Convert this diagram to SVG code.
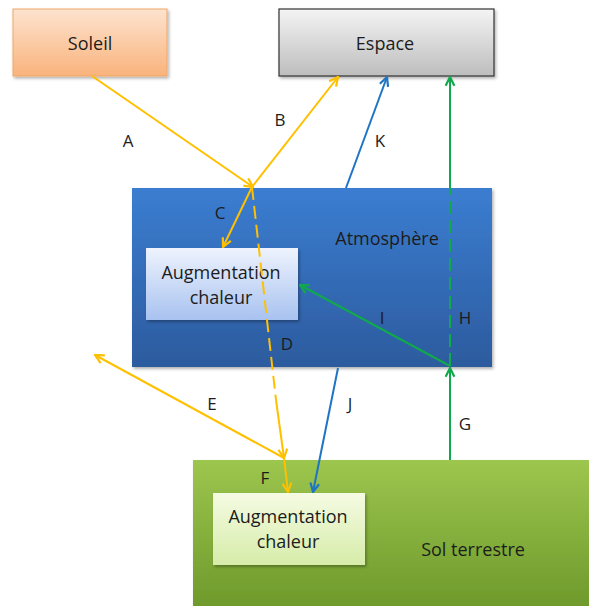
<svg xmlns="http://www.w3.org/2000/svg" width="589" height="606" viewBox="0 0 589 606">
<defs>
<linearGradient id="gSoleil" x1="0" y1="0" x2="0" y2="1"><stop offset="0" stop-color="#fde3cf"/><stop offset="1" stop-color="#f9b37c"/></linearGradient>
<linearGradient id="gEspace" x1="0" y1="0" x2="0" y2="1"><stop offset="0" stop-color="#f4f4f4"/><stop offset="1" stop-color="#bdbdbd"/></linearGradient>
<linearGradient id="gAtmo" x1="0" y1="0" x2="0" y2="1"><stop offset="0" stop-color="#3b7dd1"/><stop offset="1" stop-color="#2c5b9e"/></linearGradient>
<linearGradient id="gAugA" x1="0" y1="0" x2="0" y2="1"><stop offset="0" stop-color="#eef3fd"/><stop offset="1" stop-color="#a8c2f0"/></linearGradient>
<linearGradient id="gSol" x1="0" y1="0" x2="0" y2="1"><stop offset="0" stop-color="#9dc64e"/><stop offset="1" stop-color="#6d992b"/></linearGradient>
<linearGradient id="gAugS" x1="0" y1="0" x2="0" y2="1"><stop offset="0" stop-color="#f5fbe3"/><stop offset="1" stop-color="#d6eca9"/></linearGradient>
<filter id="sh" x="-10%" y="-10%" width="130%" height="130%"><feDropShadow dx="1.5" dy="2" stdDeviation="1.5" flood-color="#000" flood-opacity="0.3"/></filter>
<marker id="mY" viewBox="0 0 10 10" refX="9" refY="5" markerWidth="11" markerHeight="11" markerUnits="userSpaceOnUse" orient="auto"><path d="M1,1 L9,5 L1,9" fill="none" stroke="#ffc000" stroke-width="2"/></marker>
<marker id="mB" viewBox="0 0 10 10" refX="9" refY="5" markerWidth="11" markerHeight="11" markerUnits="userSpaceOnUse" orient="auto"><path d="M1,1 L9,5 L1,9" fill="none" stroke="#1f74c4" stroke-width="2"/></marker>
<marker id="mG" viewBox="0 0 10 10" refX="9" refY="5" markerWidth="11" markerHeight="11" markerUnits="userSpaceOnUse" orient="auto"><path d="M1,1 L9,5 L1,9" fill="none" stroke="#10aa4c" stroke-width="2"/></marker>
</defs>
<style>
text{font-family:"Open Sans","Liberation Sans",sans-serif;fill:#1c1c1c;text-anchor:middle;dominant-baseline:central}
.n{font-size:18px}
.l{font-size:17px}
.y{stroke:#ffc000;stroke-width:2;fill:none}
.b{stroke:#1f74c4;stroke-width:2;fill:none}
.g{stroke:#10aa4c;stroke-width:2;fill:none}
.d{stroke-dasharray:13 6}
</style>
<rect width="589" height="606" fill="#fff"/>
<g id="soleil"><rect x="13" y="9" width="154" height="67" fill="url(#gSoleil)" stroke="#f0a868" stroke-width="1" filter="url(#sh)"/><text class="n" x="90" y="43">Soleil</text></g>
<g id="espace"><rect x="279" y="9" width="215" height="67" fill="url(#gEspace)" stroke="#333" stroke-width="1.2" filter="url(#sh)"/><text class="n" x="385" y="43">Espace</text></g>
<g id="atmosphere"><rect x="132" y="188" width="360" height="179" fill="url(#gAtmo)" filter="url(#sh)"/><text class="n" x="387" y="238">Atmosphère</text></g>
<g id="aug-atmo"><rect x="146" y="248" width="152" height="72" fill="url(#gAugA)" filter="url(#sh)"/><text class="n" x="221" y="272">Augmentation</text><text class="n" x="221" y="297">chaleur</text></g>
<g id="sol"><rect x="193" y="460" width="400" height="150" fill="url(#gSol)" filter="url(#sh)"/><text class="n" x="473" y="549">Sol terrestre</text></g>
<g id="aug-sol"><rect x="213" y="493" width="152" height="72" fill="url(#gAugS)" filter="url(#sh)"/><text class="n" x="288" y="516">Augmentation</text><text class="n" x="288" y="541">chaleur</text></g>
<g id="connectors">
<line class="y" x1="92" y1="76" x2="253" y2="187" marker-end="url(#mY)"/>
<line class="y" x1="252" y1="187" x2="338" y2="77" marker-end="url(#mY)"/>
<line class="y" x1="252" y1="187" x2="223" y2="247" marker-end="url(#mY)"/>
<line class="y d" x1="252" y1="187" x2="276" y2="400"/>
<line class="y" x1="276" y1="400" x2="284" y2="458" marker-end="url(#mY)"/>
<line class="y" x1="284" y1="458" x2="95" y2="355" marker-end="url(#mY)"/>
<line class="y" x1="284" y1="458" x2="288" y2="492" marker-end="url(#mY)"/>
<line class="b" x1="346" y1="188" x2="387" y2="77" marker-end="url(#mB)"/>
<line class="b" x1="338" y1="368" x2="313" y2="492" marker-end="url(#mB)"/>
<line class="g" x1="450" y1="460" x2="450" y2="368" marker-end="url(#mG)"/>
<line class="g d" x1="450" y1="366" x2="450" y2="188"/>
<line class="g" x1="450" y1="188" x2="450" y2="77" marker-end="url(#mG)"/>
<line class="g" x1="450" y1="366" x2="300" y2="285" marker-end="url(#mG)"/>
</g>
<g id="labels">
<text class="l" x="128" y="140">A</text>
<text class="l" x="280" y="119">B</text>
<text class="l" x="220" y="212">C</text>
<text class="l" x="287" y="343">D</text>
<text class="l" x="212" y="403">E</text>
<text class="l" x="265" y="477">F</text>
<text class="l" x="465" y="423">G</text>
<text class="l" x="465" y="317">H</text>
<text class="l" x="382" y="317">I</text>
<text class="l" x="350" y="403">J</text>
<text class="l" x="380" y="140">K</text>
</g>
</svg>
